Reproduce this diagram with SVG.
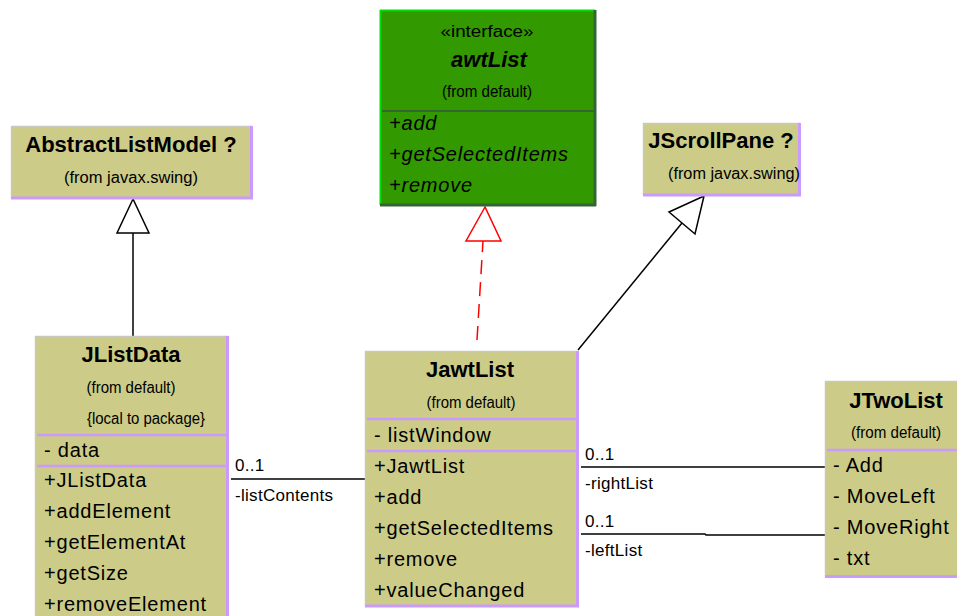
<svg xmlns="http://www.w3.org/2000/svg" width="957" height="616" viewBox="0 0 957 616">
<style>
.box{fill:#cccc88}
.hl{stroke:#c8c8c0;stroke-width:1.5}
.sh{stroke:#cc99ff;stroke-width:3}
.dv{stroke:#cc99ff;stroke-width:2.5}
.t{font-family:"Liberation Sans",Arial,sans-serif;fill:#000}
.title{font-size:22px;font-weight:bold;text-anchor:middle}
.from{font-size:16px;text-anchor:middle}
.mem{font-size:20px;letter-spacing:0.8px}
.lbl{font-size:17px;letter-spacing:0.3px}
.ln{stroke:#000;stroke-width:1.5;fill:none}
</style>
<rect width="957" height="616" fill="#fff"/>
<g id="connectors">
<line class="ln" x1="133" y1="336" x2="133" y2="233"/>
<polygon points="133,199 117,233 149,233" fill="#fff" stroke="#000" stroke-width="1.5"/>
<line x1="477" y1="340" x2="483" y2="241" stroke="#ff0000" stroke-width="1.5" stroke-dasharray="14,8"/>
<polygon points="485,207 466,241 501,241" fill="#fff" stroke="#ff0000" stroke-width="1.5"/>
<line class="ln" x1="578" y1="350" x2="682" y2="223"/>
<polygon points="704,196 669,212 695,234" fill="#fff" stroke="#000" stroke-width="1.5"/>
<line class="ln" x1="231" y1="479" x2="365" y2="479"/>
<text class="t lbl" x="235" y="471">0..1</text>
<text class="t lbl" x="235" y="501">-listContents</text>
<line class="ln" x1="581" y1="467" x2="825" y2="467"/>
<text class="t lbl" x="585" y="460">0..1</text>
<text class="t lbl" x="585" y="489">-rightList</text>
<polyline class="ln" points="581,534 705,534 706,535 825,535"/>
<text class="t lbl" x="585" y="527">0..1</text>
<text class="t lbl" x="585" y="556">-leftList</text>
</g>
<g id="awtList">
<rect x="380" y="10" width="215" height="195" fill="#339900"/>
<line x1="380" y1="10.5" x2="595" y2="10.5" stroke="#00dd00" stroke-width="2"/>
<line x1="380.5" y1="10" x2="380.5" y2="205" stroke="#00dd00" stroke-width="2"/>
<line x1="595" y1="10" x2="595" y2="206" stroke="#336633" stroke-width="3"/>
<line x1="380" y1="205" x2="596" y2="205" stroke="#336633" stroke-width="3"/>
<line x1="382" y1="111" x2="594" y2="111" stroke="#336633" stroke-width="2"/>
<text class="t from" x="487" y="37" textLength="93" lengthAdjust="spacingAndGlyphs">«interface»</text>
<text class="t title" x="489" y="67" font-style="italic">awtList</text>
<text class="t from" x="487" y="97" textLength="90" lengthAdjust="spacingAndGlyphs">(from default)</text>
<text class="t mem" x="389" y="130" font-style="italic">+add</text>
<text class="t mem" x="389" y="161" font-style="italic">+getSelectedItems</text>
<text class="t mem" x="389" y="192" font-style="italic">+remove</text>
</g>
<g id="AbstractListModel">
<rect class="box" x="11" y="126" width="241" height="72"/>
<line class="hl" x1="11" y1="126.5" x2="252" y2="126.5"/>
<line class="hl" x1="11.5" y1="126" x2="11.5" y2="198"/>
<line class="sh" x1="251.5" y1="126" x2="251.5" y2="199"/>
<line class="sh" x1="11" y1="198" x2="253" y2="198"/>
<text class="t title" x="131" y="152">AbstractListModel ?</text>
<text class="t from" x="131" y="183" textLength="134" lengthAdjust="spacingAndGlyphs">(from javax.swing)</text>
</g>
<g id="JScrollPane">
<rect class="box" x="643" y="123" width="157" height="72"/>
<line class="hl" x1="643" y1="123.5" x2="800" y2="123.5"/>
<line class="hl" x1="643.5" y1="123" x2="643.5" y2="195"/>
<line class="sh" x1="799.5" y1="123" x2="799.5" y2="196"/>
<line class="sh" x1="643" y1="195" x2="801" y2="195"/>
<text class="t title" x="721" y="148">JScrollPane ?</text>
<text class="t from" x="734" y="179" textLength="132" lengthAdjust="spacingAndGlyphs">(from javax.swing)</text>
</g>
<g id="JListData">
<rect class="box" x="35" y="336" width="193" height="282"/>
<line class="hl" x1="35" y1="336.5" x2="228" y2="336.5"/>
<line class="hl" x1="35.5" y1="336" x2="35.5" y2="616"/>
<line class="sh" x1="227.5" y1="336" x2="227.5" y2="616"/>
<line class="dv" x1="37" y1="435" x2="226" y2="435"/>
<line class="dv" x1="37" y1="466" x2="226" y2="466"/>
<text class="t title" x="131" y="362">JListData</text>
<text class="t from" x="131" y="393" textLength="89" lengthAdjust="spacingAndGlyphs">(from default)</text>
<text class="t from" x="146" y="424" textLength="118" lengthAdjust="spacingAndGlyphs">{local to package}</text>
<text class="t mem" x="44" y="457">- data</text>
<text class="t mem" x="44" y="487">+JListData</text>
<text class="t mem" x="44" y="518">+addElement</text>
<text class="t mem" x="44" y="549">+getElementAt</text>
<text class="t mem" x="44" y="580">+getSize</text>
<text class="t mem" x="44" y="611">+removeElement</text>
</g>
<g id="JawtList">
<rect class="box" x="365" y="351" width="213" height="255"/>
<line class="hl" x1="365" y1="351.5" x2="578" y2="351.5"/>
<line class="hl" x1="365.5" y1="351" x2="365.5" y2="606"/>
<line class="sh" x1="577.5" y1="351" x2="577.5" y2="607"/>
<line class="sh" x1="365" y1="606" x2="579" y2="606"/>
<line class="dv" x1="367" y1="419" x2="576" y2="419"/>
<line class="dv" x1="367" y1="451" x2="576" y2="451"/>
<text class="t title" x="470" y="377">JawtList</text>
<text class="t from" x="471" y="408" textLength="89" lengthAdjust="spacingAndGlyphs">(from default)</text>
<text class="t mem" x="374" y="442">- listWindow</text>
<text class="t mem" x="374" y="473">+JawtList</text>
<text class="t mem" x="374" y="504">+add</text>
<text class="t mem" x="374" y="535">+getSelectedItems</text>
<text class="t mem" x="374" y="566">+remove</text>
<text class="t mem" x="374" y="597">+valueChanged</text>
</g>
<g id="JTwoList">
<rect class="box" x="825" y="381" width="134" height="196"/>
<line class="hl" x1="825" y1="381.5" x2="957" y2="381.5"/>
<line class="hl" x1="825.5" y1="381" x2="825.5" y2="577"/>
<line class="sh" x1="825" y1="576.5" x2="957" y2="576.5"/>
<line class="dv" x1="827" y1="450" x2="957" y2="450"/>
<text class="t title" x="896" y="408">JTwoList</text>
<text class="t from" x="896" y="438" textLength="90" lengthAdjust="spacingAndGlyphs">(from default)</text>
<text class="t mem" x="833" y="472">- Add</text>
<text class="t mem" x="833" y="503">- MoveLeft</text>
<text class="t mem" x="833" y="534">- MoveRight</text>
<text class="t mem" x="833" y="565">- txt</text>
</g>
</svg>
